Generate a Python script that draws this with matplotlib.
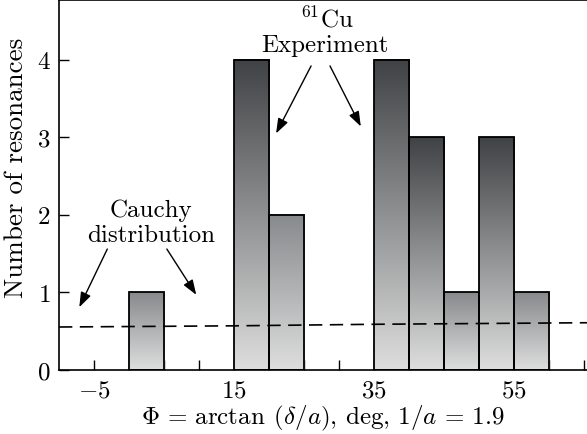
import numpy as np
import matplotlib
matplotlib.use("Agg")
import matplotlib.pyplot as plt
from matplotlib.colors import LinearSegmentedColormap
from matplotlib.patches import Rectangle

plt.rcParams['font.family'] = 'serif'
plt.rcParams['font.serif'] = ['cmr10', 'DejaVu Serif']
plt.rcParams['mathtext.fontset'] = 'cm'
plt.rcParams['axes.unicode_minus'] = False

# Histogram of resonance phases (bin edges in degrees, counts)
bin_left = [0, 15, 20, 35, 40, 45, 50, 55]
bin_width = 5
counts = [1, 4, 2, 4, 3, 1, 3, 1]

# Cauchy distribution level across the plotted range
cauchy_x = [-10, 15, 35, 65.5]
cauchy_y = [0.555, 0.57, 0.59, 0.61]

xtick_pos = [-5, 15, 35, 55]
xtick_labels = ["$-5$", "$15$", "$35$", "$55$"]
ytick_pos = [0, 1, 2, 3, 4]

FS = 18

fig = plt.figure(figsize=(5.87, 4.35), dpi=100)
ax = fig.add_axes([0.1005, 0.147, 0.8995, 0.8507])

light = (0.87, 0.87, 0.87)
grad = np.linspace(0, 1, 256).reshape(-1, 1)

for x0, h in zip(bin_left, counts):
    top = (0.25, 0.26, 0.27) if h >= 3 else (0.53, 0.54, 0.55)
    cm = LinearSegmentedColormap.from_list("bar", [light, top])
    ax.imshow(grad, extent=[x0, x0 + bin_width, 0, h], origin='lower',
              cmap=cm, aspect='auto', zorder=1, interpolation='bilinear')
    ax.add_patch(Rectangle((x0, 0), bin_width, h, fill=False,
                           edgecolor='black', linewidth=1.3, zorder=2))

ax.plot(cauchy_x, cauchy_y, color='black', linestyle=(0, (8, 4.5)),
        linewidth=1.2, zorder=3)

ax.set_xlim(-10, 65.4)
ax.set_ylim(0, 4.77)
ax.set_axisbelow(True)

ax.set_xticks(np.arange(-5, 66, 5), minor=True)
ax.set_xticks(xtick_pos)
ax.set_xticklabels(xtick_labels)
ax.set_yticks(ytick_pos)
ax.set_yticklabels(["$%d$" % v for v in ytick_pos])
ax.tick_params(axis='both', which='both', direction='in', length=7,
               width=1.0, labelsize=FS)
ax.tick_params(axis='x', pad=7)
ax.tick_params(axis='y', pad=6)
ax.spines['right'].set_visible(False)
for s in ['left', 'bottom', 'top']:
    ax.spines[s].set_linewidth(1.2)

ax.set_xlabel(r"$\Phi\,=\,\arctan\;(\delta/a)$, deg, $1/a\,=\,1.9$",
              fontsize=FS, labelpad=1)
ax.set_ylabel("Number of resonances", fontsize=19.5)
ax.yaxis.set_label_coords(-0.058, 0.55)

# annotations
ax.text(28.3, 4.53, r"$^{61}$Cu", ha='center', va='center', fontsize=FS)
ax.text(27.9, 4.19, "Experiment", ha='center', va='center', fontsize=FS)
ax.text(3.1, 2.06, "Cauchy", ha='center', va='center', fontsize=FS)
ax.text(3.1, 1.74, "distribution", ha='center', va='center', fontsize=FS)

arrow = dict(arrowstyle='-|>,head_length=0.5,head_width=0.18', color='black',
             lw=1.0, mutation_scale=18, shrinkA=0, shrinkB=0)
ax.annotate("", xy=(21.0, 3.05), xytext=(26.0, 3.92), arrowprops=arrow)
ax.annotate("", xy=(33.1, 3.14), xytext=(28.7, 3.92), arrowprops=arrow)
ax.annotate("", xy=(-7.1, 0.81), xytext=(-3.1, 1.56), arrowprops=arrow)
ax.annotate("", xy=(9.6, 0.97), xytext=(5.4, 1.56), arrowprops=arrow)

fig.savefig("out.png", dpi=100)
